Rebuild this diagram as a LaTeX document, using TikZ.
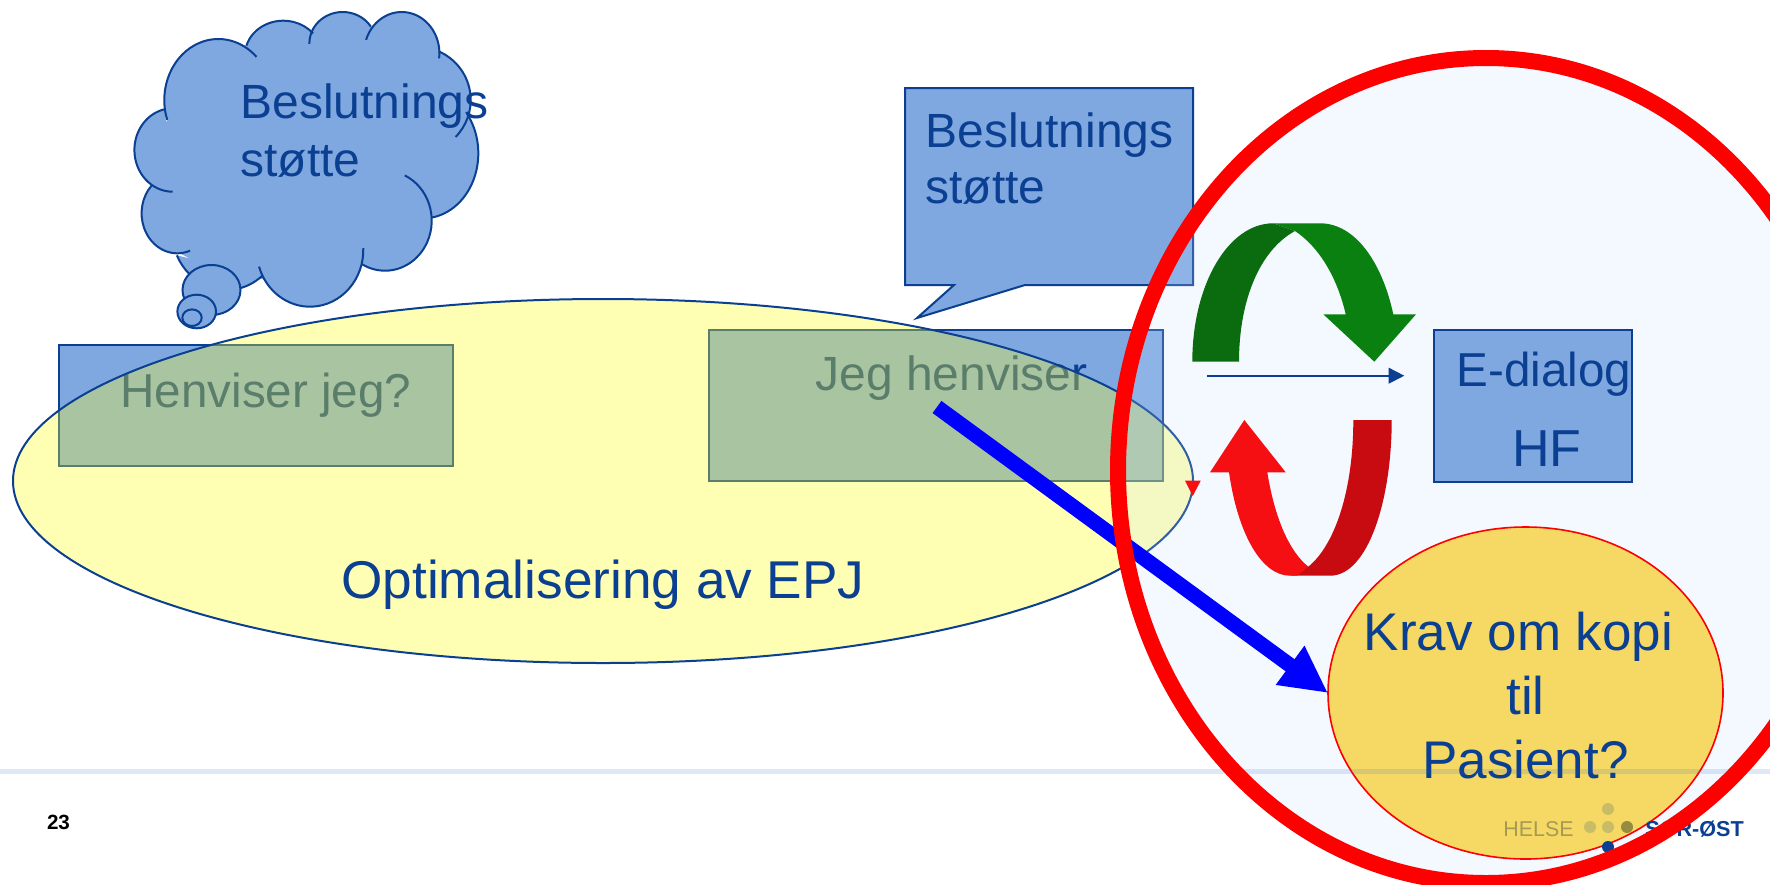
\documentclass[tikz,border=0pt]{standalone}
\usepackage{fontspec}
\setmainfont{Liberation Sans}
\usetikzlibrary{arrows.meta,shapes.geometric}
\newlength{\du}
\setlength{\du}{0.5pt}
\definecolor{boxblue}{HTML}{7FA8E0}
\definecolor{inkblue}{HTML}{0A3F91}
\definecolor{epjyellow}{HTML}{FFFF1E}
\definecolor{kravyellow}{HTML}{F6D964}
\definecolor{ringtint}{HTML}{CCE0FF}
\definecolor{darkgreen}{HTML}{0A6B0F}
\definecolor{lightgreen}{HTML}{0A8010}
\definecolor{darkred}{HTML}{C80B10}
\definecolor{lightred}{HTML}{F50E12}
\definecolor{ruleblue}{HTML}{2060C0}
\definecolor{logoolive}{HTML}{A49A54}
\definecolor{dotolive}{HTML}{C8BC66}
\definecolor{dotdark}{HTML}{958C3E}
\tikzset{
  bluebox/.style={draw=inkblue,fill=boxblue,line width=2\du,inner sep=0pt,outer sep=0pt},
  inktext/.style={text=inkblue,inner sep=0pt,anchor=base west,font=\fontsize{24}{29}\selectfont},
  bubble/.style={draw=inkblue,fill=boxblue,line width=2\du},
  epjshape/.style={ellipse,draw=inkblue,fill=epjyellow,fill opacity=.33,line width=2\du,inner sep=0pt,outer sep=0pt},
  kravshape/.style={ellipse,draw=red,fill=kravyellow,line width=1.6\du,inner sep=0pt,outer sep=0pt},
  kravtext/.style={inner sep=0pt,text=inkblue,align=center,font=\fontsize{26.5}{32}\selectfont},
  discshape/.style={ellipse,fill=ringtint,fill opacity=.2,inner sep=0pt,outer sep=0pt},
  ringshape/.style={ellipse,draw=red,line width=16\du,inner sep=0pt,outer sep=0pt},
  logotext/.style={inner sep=0pt,anchor=base west,font=\fontsize{10.7}{13}\selectfont},
  logodot/.style={circle,inner sep=0pt,minimum size=12\du},
}
\newcommand{\cloudlobes}[1]{%
\foreach \cx/\cy/\rx/\ry/\sa/\ea in {218.3/100/54/61/161/315,283.3/55/38.3/34.3/196/321,342.7/43.3/33.3/31.3/179/328,
  401.7/53.3/37.7/41.3/199/367,416.7/100/54/53.3/294/404,423.3/153.3/55/65/323/441,385/220.7/46.7/50/295/480,
  310/250/53.3/56.7/-2/163,226.7/230/55/60/50/155,177.3/213.3/35.7/40/69/224,172.7/150/38.3/41.7/90/258}
  \path[#1] ({(\cx+\rx*cos(\sa))*\du},{(\cy+\ry*sin(\sa))*\du}) arc[start angle=\sa,end angle=\ea,x radius=\rx*\du,y radius=\ry*\du];
}
\begin{document}
\begin{tikzpicture}
\pgftransformyscale{-1.000000}
\useasboundingbox (0\du,0\du) rectangle (1770\du,884\du);
\fill[white] (0\du,0\du) rectangle (1770\du,884\du);
% thought cloud
\fill[boxblue] (167.7\du,120\du)--(195\du,65\du)--(245.7\du,45\du)--(280\du,35\du)--(313.3\du,33.3\du)--(345\du,25\du)--(370.7\du,26.7\du)--(410\du,30\du)--(439.3\du,50\du)--(460\du,85\du)--(466\du,115\du)--(470\du,170\du)--(431.7\du,217.3\du)--(410\du,250\du)--(361.7\du,263.3\du)--(310\du,295\du)--(265\du,279.3\du)--(220\du,275\du)--(180\du,253.3\du)--(150\du,225\du)--(151.7\du,185.7\du)--(140\du,150\du)--cycle;
\cloudlobes{fill=boxblue}
\cloudlobes{draw=inkblue,line width=2\du}
\filldraw[bubble] (211.5\du,290\du) ellipse [x radius=29\du,y radius=25\du];
\filldraw[bubble] (196.7\du,311.5\du) ellipse [x radius=19.3\du,y radius=16.8\du];
\filldraw[bubble] (192\du,317.7\du) ellipse [x radius=9.7\du,y radius=8.3\du];
\node[inktext] (cloudtop) at (240\du,118\du) {Beslutnings};
\node[inktext] (cloudlow) at (240\du,176\du) {støtte};
% speech box
\filldraw[bubble] (905\du,88\du)--(1193\du,88\du)--(1193\du,285\du)--(1025\du,285\du)--(917\du,318\du)--(954\du,285\du)--(905\du,285\du)--cycle;
\node[inktext] (speechtop) at (925\du,147\du) {Beslutnings};
\node[inktext] (speechlow) at (925\du,203\du) {støtte};
% boxes under the big ellipse
\node[bluebox,minimum width=394\du,minimum height=121\du] (henvbox) at (256\du,405.5\du) {};
\node[inktext,font=\fontsize{23.8}{29}\selectfont] (henvtext) at (120\du,407\du) {Henviser jeg?};
\node[bluebox,minimum width=454\du,minimum height=151\du] (jegbox) at (936\du,405.5\du) {};
\node[inktext] (jegtext) at (815\du,390\du) {Jeg henviser};
\node[epjshape,minimum width=1180\du,minimum height=364\du] (epj) at (603\du,481\du) {};
\node[inktext,font=\fontsize{26.6}{32}\selectfont,anchor=base] (epjtext) at (603\du,598\du) {Optimalisering av EPJ};
% pale disc, copy ellipse
\node[discshape,minimum width=736\du,minimum height=825\du] (disc) at (1486\du,470.5\du) {};
\node[kravshape,minimum width=395\du,minimum height=332\du] (krav) at (1525.5\du,693\du) {};
\node[kravtext] (kravlabel) at (1525.5\du,695.5\du) {Krav om kopi\hspace{.26em}\mbox{}\\til\\Pasient?};
% footer
\fill[ruleblue,opacity=.14] (0\du,769\du) rectangle (1770\du,774\du);
\node[inner sep=0pt,font=\bfseries\fontsize{10.3}{12}\selectfont] (pagenr) at (58.5\du,822\du) {23};
\node[logotext,text=logoolive] (helse) at (1503\du,836\du) {HELSE};
\node[logodot,fill=dotolive] (dottop) at (1608\du,809\du) {};
\node[logodot,fill=dotolive] (dotleft) at (1590\du,827\du) {};
\node[logodot,fill=dotolive] (dotmid) at (1608\du,827\du) {};
\node[logodot,fill=dotdark] (dotright) at (1627\du,827\du) {};
\node[logodot,fill=inkblue] (dotlow) at (1608\du,847\du) {};
\node[logotext,text=inkblue,font=\bfseries\fontsize{10.8}{13}\selectfont] (sorost) at (1645\du,836\du) {SØR-ØST};
% thick arrow
\coordinate (jegstart) at (937\du,407\du);
\draw[blue,line width=15\du,-{Triangle[length=23.5pt,width=22.5pt]}] (jegstart) -- (krav.west);
% red ring
\node[ringshape,minimum width=736\du,minimum height=825\du] (ring) at (1486\du,470.5\du) {};
\fill[lightred] (1185\du,480.7\du)--(1200.7\du,480.7\du)--(1192.7\du,496\du)--cycle;
% round arrows
\fill[darkgreen] (1192.3\du,361.7\du) .. controls (1192.3\du,285\du) and (1228\du,223.3\du) .. (1273.3\du,223.3\du)--(1295\du,231\du) .. controls (1260\du,250\du) and (1239\du,300\du) .. (1239\du,361.7\du)--cycle;
\fill[lightgreen] (1273.3\du,223.3\du)--(1320\du,223.3\du) .. controls (1355\du,223.3\du) and (1382\du,262\du) .. (1393.3\du,314.3\du)--(1416\du,314.3\du)--(1374.3\du,361.7\du)--(1323.3\du,314.3\du)--(1345.7\du,314.3\du) .. controls (1337\du,277\du) and (1319\du,247\du) .. (1295\du,231\du)--cycle;
\fill[darkred] (1353.3\du,420\du)--(1391.7\du,420\du) .. controls (1391.7\du,500\du) and (1368\du,575.7\du) .. (1330\du,575.7\du)--(1290\du,575.7\du)--(1308.3\du,566.7\du) .. controls (1335\du,545\du) and (1353.3\du,490\du) .. (1353.3\du,420\du)--cycle;
\fill[lightred] (1229\du,472.3\du) .. controls (1238\du,535\du) and (1262\du,575.7\du) .. (1290\du,575.7\du)--(1297\du,575.7\du)--(1308.3\du,566.7\du) .. controls (1290\du,552\du) and (1275\du,520\du) .. (1267.3\du,472.3\du)--(1285.7\du,472.3\du)--(1244.3\du,420\du)--(1210\du,472.3\du)--cycle;
% e-dialog
\coordinate (thinstart) at (1207.3\du,375.7\du);
\coordinate (thinend) at (1404.3\du,375.7\du);
\draw[inkblue,line width=1.8\du,-{Triangle[length=7.85pt,width=7.85pt]}] (thinstart) -- (thinend);
\node[bluebox,minimum width=198\du,minimum height=152\du] (edialog) at (1533\du,406\du) {};
\node[inktext,font=\fontsize{23.8}{29}\selectfont] (edialogtext) at (1456\du,386\du) {E-dialog};
\node[inktext,font=\fontsize{26}{31}\selectfont] (hftext) at (1512\du,466\du) {HF};
\end{tikzpicture}
\end{document}
